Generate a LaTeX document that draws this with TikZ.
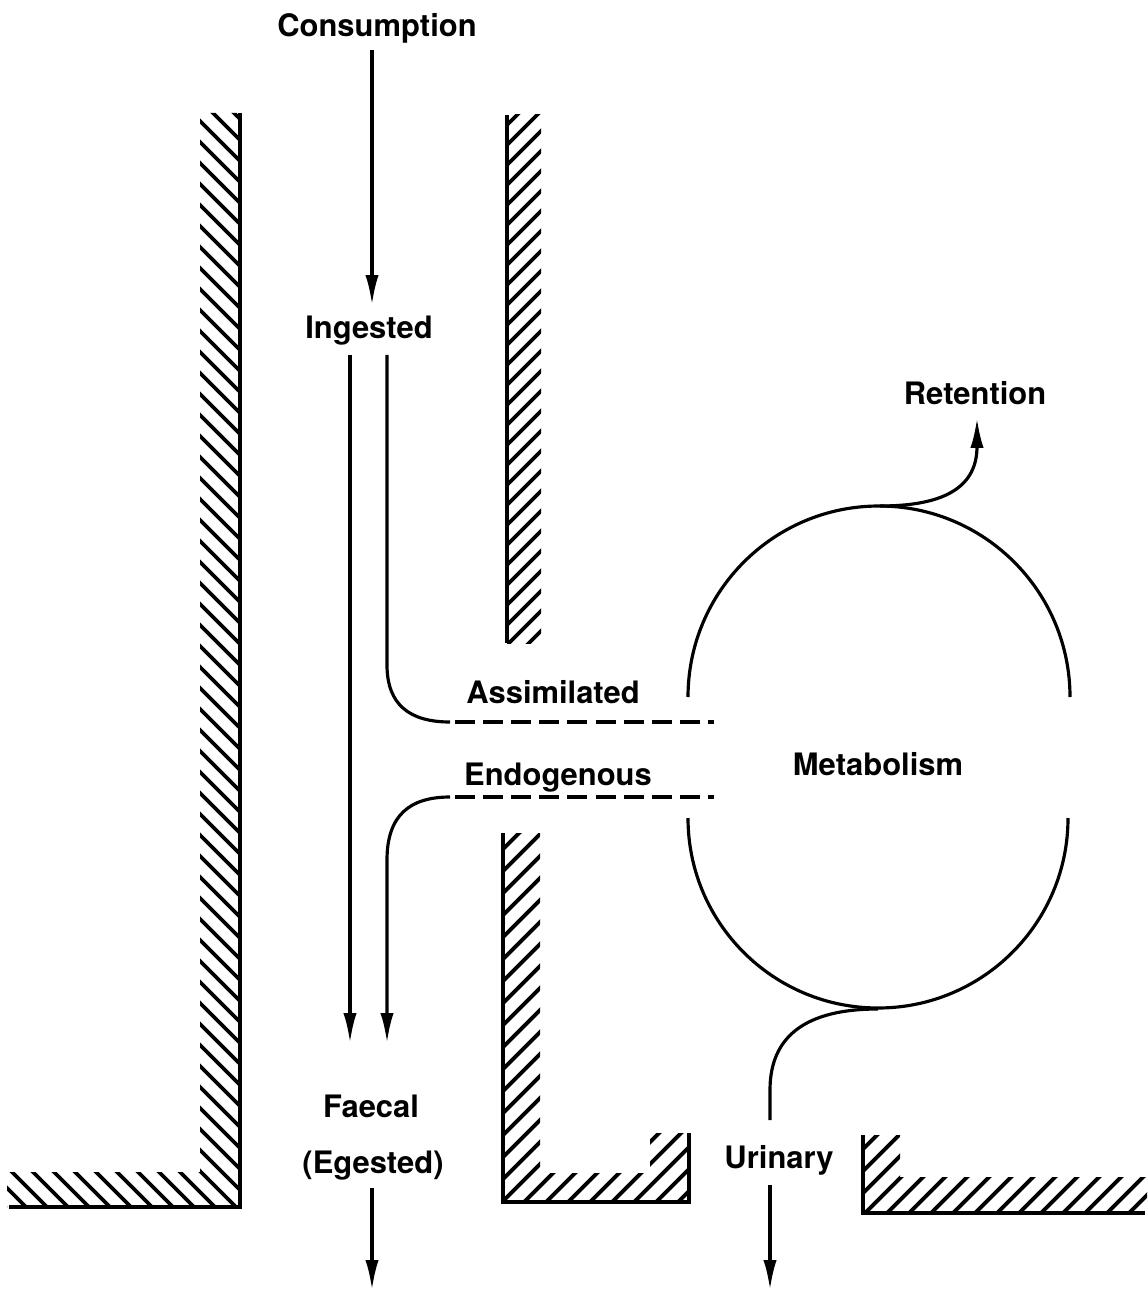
\documentclass[tikz,border=0pt]{standalone}
\usepackage{fontspec}
\setmainfont{TeX Gyre Heros}
\usetikzlibrary{arrows.meta}
\begin{document}
\begin{tikzpicture}[x=0.02cm,y=-0.02cm,
  wall/.style={line width=2pt},
  hatch/.style={line width=2.2pt},
  flow/.style={line width=1.8pt},
  arr/.style={flow,-{Latex[length=17pt,width=7.5pt]}},
  lbl/.style={font=\fontsize{17.6}{20}\selectfont\bfseries, inner sep=0pt, anchor=base},
  dashline/.style={line width=2.3pt, dash pattern=on 11.4pt off 4.6pt}]
\useasboundingbox (0,0) rectangle (1147,1293);

% ---- hatched walls ----
\begin{scope}
  \clip (200,113) -- (240,113) -- (240,1207) -- (7,1207) -- (7,1172) -- (200,1172) -- cycle;
  \foreach \k in {-142,-121,...,1230} \draw[hatch] (0,\k) -- (1300,\k+1300);
\end{scope}
\draw[wall] (240,113) -- (240,1207) -- (9,1207);

\begin{scope}
  \clip (507,115) -- (541,115) -- (541,643) -- (507,643) -- cycle;
  \foreach \k in {612,632,...,1200} \draw[hatch] (\k,0) -- (\k-1300,1300);
\end{scope}
\draw[wall] (507,115) -- (507,643);

\begin{scope}
  \clip (503,833) -- (540,833) -- (540,1173) -- (650,1173) -- (650,1133) -- (689,1133) -- (689,1202) -- (503,1202) -- cycle;
  \foreach \k in {1330,1352,...,1910} \draw[hatch] (\k,0) -- (\k-1400,1400);
\end{scope}
\draw[wall] (503,833) -- (503,1202) -- (689,1202) -- (689,1133);

\begin{scope}
  \clip (863,1135) -- (900,1135) -- (900,1177) -- (1147,1177) -- (1147,1213) -- (863,1213) -- cycle;
  \foreach \k in {1990,2012,...,2380} \draw[hatch] (\k,0) -- (\k-1400,1400);
\end{scope}
\draw[wall] (863,1135) -- (863,1213) -- (1145,1213);

% ---- labels ----
\node[lbl] (cons)  at (377,37)   {Consumption};
\node[lbl] (ing)   at (369,339)  {Ingested};
\node[lbl] (ret)   at (975,405)  {Retention};
\node[lbl] (assim) at (553,703)  {Assimilated};
\node[lbl] (endo)  at (558,785)  {Endogenous};
\node[lbl] (meta)  at (878,775)  {Metabolism};
\node[lbl] (faec)  at (371,1117) {Faecal};
\node[lbl] (eges)  at (373,1173) {(Egested)};
\node[lbl] (uri)   at (779,1168) {Urinary};

% ---- coordinates ----
\coordinate (consA) at (372,50);
\coordinate (consB) at (372,305);
\coordinate (fA) at (350,355);
\coordinate (fB) at (350,1043);
\coordinate (aA) at (387,355);
\coordinate (aB) at (387,665);
\coordinate (aC) at (450,722);
\coordinate (aD) at (455,722);
\coordinate (aE) at (714,722);
\coordinate (eA) at (455,797);
\coordinate (eB) at (714,797);
\coordinate (eC) at (450,797);
\coordinate (eD) at (387,860);
\coordinate (eE) at (387,1043);
\coordinate (upL) at (688,697);
\coordinate (loL) at (688,818);
\coordinate (top) at (880,506);
\coordinate (retT) at (977,418);
\coordinate (bot) at (878,1009);
\coordinate (uA) at (770,1090);
\coordinate (uB) at (770,1120);
\coordinate (uC) at (770,1185);
\coordinate (uD) at (770,1290);
\coordinate (gA) at (372,1188);
\coordinate (gB) at (372,1290);

% ---- flows ----
\draw[arr] (consA) -- (consB);
\draw[arr] (fA) -- (fB);
\draw[flow] (aA) -- (aB) .. controls (387,705) and (410,722) .. (aC);
\draw[dashline] (aD) -- (aE);
\draw[dashline] (eA) -- (eB);
\draw[arr] (eC) .. controls (410,797) and (387,815) .. (eD) -- (eE);

\draw[flow] (upL) arc[start angle=180, end angle=360, radius=191];
\draw[flow] (loL) arc[start angle=180, end angle=0, radius=190];

\draw[arr] (top) .. controls (948,506) and (977,485) .. (retT);
\draw[flow] (bot) .. controls (795,1009) and (770,1045) .. (uA) -- (uB);
\draw[arr] (uC) -- (uD);
\draw[arr] (gA) -- (gB);
\end{tikzpicture}
\end{document}
